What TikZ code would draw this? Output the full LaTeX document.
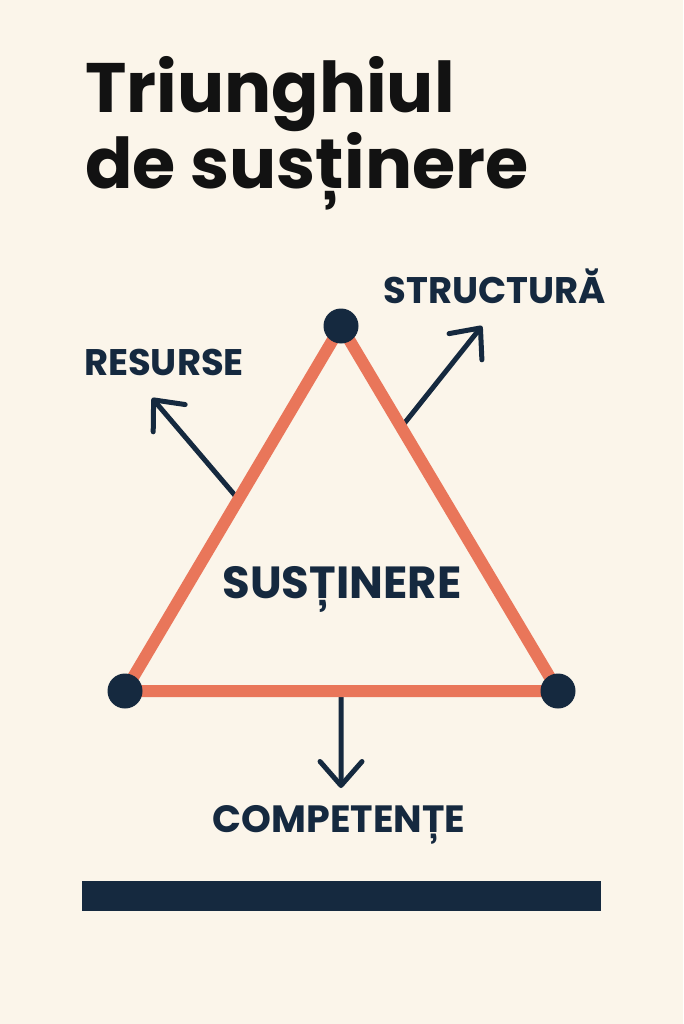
\documentclass[tikz,border=0pt]{standalone}
\usepackage{fontspec}
\setmainfont{Poppins}
\newfontfamily\tagfont{Poppins Bold}
\usetikzlibrary{arrows.meta,calc}
\definecolor{paper}{HTML}{FBF5EA}
\definecolor{navy}{HTML}{15293F}
\definecolor{coral}{HTML}{E9765A}
\definecolor{ink}{HTML}{121212}

\begin{document}
\begin{tikzpicture}[x=1pt, y=-1pt,
  headline/.style={font=\bfseries\fontsize{70}{70}\selectfont, text=ink, inner sep=0pt, anchor=base west},
  tag/.style={font=\tagfont\fontsize{37}{37}\selectfont, text=navy, inner sep=0pt, anchor=base},
  side/.style={draw=coral, line width=12pt, line cap=round, line join=round},
  vertex/.style={circle, fill=navy, inner sep=0pt, minimum size=35pt},
  pointer/.style={draw=navy, line width=5pt, line cap=round, -{Straight Barb[length=24pt, width=42pt, round]}}]

\fill[paper] (0,0) rectangle (683,1024);
\useasboundingbox (0,0) rectangle (683,1024);

\node[headline] (head1) at (85,113) {Triunghiul};
\node[headline] (head2) at (85,189) {de susținere};

\coordinate (A) at (341,326);
\coordinate (B) at (125,691);
\coordinate (C) at (558,691);
\coordinate (resend) at (152,398);
\coordinate (strend) at (482,326);
\coordinate (compend) at (341,788);

% arrows sit under the triangle
\draw[pointer] ($(B)!0.525!(A)$) -- (resend);
\draw[pointer] ($(A)!0.2775!(C)$) -- (strend);
\draw[pointer] ($(B)!0.499!(C)$) -- (compend);

\draw[side] (A) -- (B) -- (C) -- cycle;
\node[vertex] (top) at (A) {};
\node[vertex] (left) at (B) {};
\node[vertex] (right) at (C) {};

\node[tag] (res) at (164,375) {RESURSE};
\node[tag] (str) at (495,303) {STRUCTURĂ};
\node[tag, font=\tagfont\fontsize{45}{45}\selectfont] (sus) at (342,598) {SUSȚINERE};
\node[tag, font=\tagfont\fontsize{38}{38}\selectfont] (comp) at (339,832) {COMPETENȚE};

\fill[navy] (82,881) rectangle (601,911);

\end{tikzpicture}
\end{document}
